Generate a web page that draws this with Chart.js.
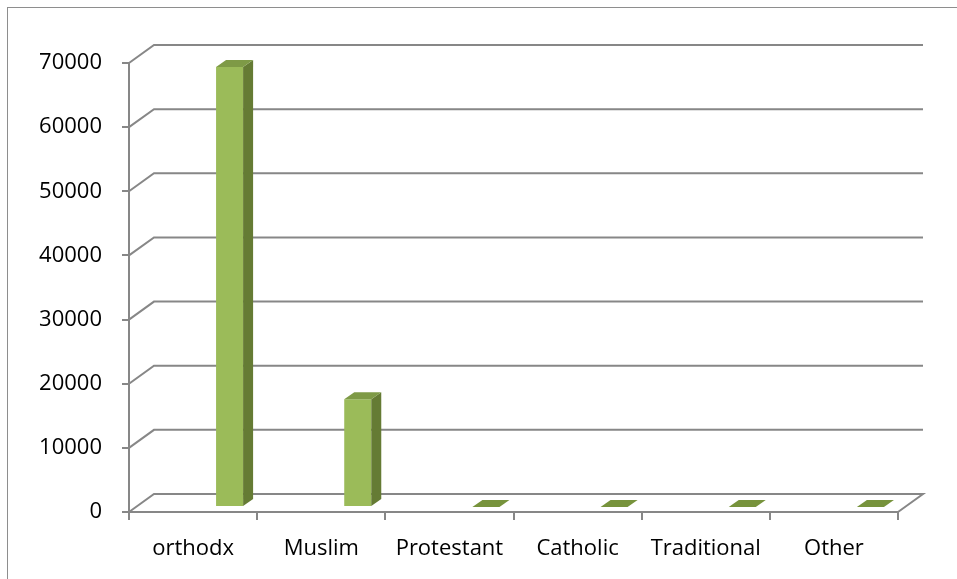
<!DOCTYPE html>
<html>
<head>
<meta charset="utf-8">
<script src="https://cdn.jsdelivr.net/npm/chart.js@4/dist/chart.umd.min.js"></script>
<style>
  html, body { margin: 0; padding: 0; background: #fff; }
  #wrap { width: 957px; height: 579px; position: relative; }
</style>
</head>
<body>
<div id="wrap"><canvas id="religionChart"></canvas></div>
<script>
const categories = ['orthodx', 'Muslim', 'Protestant', 'Catholic', 'Traditional', 'Other'];
const counts = [68600, 16800, 0, 0, 0, 0];
const yTicks = [0, 10000, 20000, 30000, 40000, 50000, 60000, 70000];

const gridColor = '#878787';
// depth of the back wall and of the bars, in pixels
const wall = { dx: 25, dy: -18 };
const bar3d = { shiftX: 36.5, shiftY: -5, dx: 10, dy: -7 };

const chartBorder = {
    id: 'chartBorder',
    beforeDraw(chart) {
        const ctx = chart.ctx;
        ctx.save();
        ctx.strokeStyle = '#8e8e8e';
        ctx.lineWidth = 1;
        ctx.strokeRect(7.5, 7.5, 1200, 1200);
        ctx.restore();
    }
};

const backWall = {
    id: 'backWall',
    beforeDatasetsDraw(chart) {
        const { ctx, chartArea } = chart;
        const y = chart.scales.y;
        ctx.save();
        ctx.strokeStyle = gridColor;
        ctx.lineWidth = 2;
        yTicks.forEach(v => {
            const py = y.getPixelForValue(v);
            ctx.beginPath();
            ctx.moveTo(chartArea.left, py);
            ctx.lineTo(chartArea.left + wall.dx, py + wall.dy);
            ctx.lineTo(chartArea.right + wall.dx, py + wall.dy);
            if (v === 0) {
                ctx.lineTo(chartArea.right, py);
            }
            ctx.stroke();
        });
        ctx.restore();
    }
};

const columns3d = {
    id: 'columns3d',
    afterDatasetsDraw(chart) {
        const ctx = chart.ctx;
        const meta = chart.getDatasetMeta(0);
        ctx.save();
        meta.data.forEach(el => {
            const w = el.width;
            const x0 = el.x + bar3d.shiftX - w / 2;
            const x1 = x0 + w;
            const top = el.y + bar3d.shiftY;
            const bottom = el.base + bar3d.shiftY;
            const h = bottom - top;
            if (h > 0.5) {
                // front
                ctx.fillStyle = '#9bbb59';
                ctx.fillRect(x0, top, w, h);
                // side
                ctx.fillStyle = '#657b34';
                ctx.beginPath();
                ctx.moveTo(x1, top);
                ctx.lineTo(x1 + bar3d.dx, top + bar3d.dy);
                ctx.lineTo(x1 + bar3d.dx, bottom + bar3d.dy);
                ctx.lineTo(x1, bottom);
                ctx.closePath();
                ctx.fill();
            }
            // top
            ctx.fillStyle = h > 0.5 ? '#7e9a46' : '#77933c';
            ctx.beginPath();
            ctx.moveTo(x0, top);
            ctx.lineTo(x0 + bar3d.dx, top + bar3d.dy);
            ctx.lineTo(x1 + bar3d.dx, top + bar3d.dy);
            ctx.lineTo(x1, top);
            ctx.closePath();
            ctx.fill();
        });
        ctx.restore();
    }
};

new Chart(document.getElementById('religionChart'), {
    type: 'bar',
    data: {
        labels: categories,
        datasets: [{
            data: counts,
            backgroundColor: 'rgba(0,0,0,0)',
            borderWidth: 0,
            categoryPercentage: 1,
            barPercentage: 27 / 128,
        }]
    },
    options: {
        responsive: true,
        maintainAspectRatio: false,
        animation: false,
        layout: { padding: { top: 63, right: 59, bottom: 0, left: 0 } },
        plugins: {
            legend: { display: false },
            tooltip: { enabled: false },
        },
        scales: {
            x: {
                offset: true,
                grid: {
                    offset: true,
                    drawOnChartArea: false,
                    drawTicks: true,
                    tickLength: 8,
                    color: gridColor,
                    lineWidth: 2,
                },
                border: { display: true, color: gridColor, width: 2 },
                ticks: {
                    color: '#000',
                    padding: 16,
                    maxRotation: 0,
                    font: { family: 'Open Sans', size: 22 },
                },
                afterFit(scale) { scale.height = 67; },
            },
            y: {
                min: 0,
                max: 70000,
                afterBuildTicks(scale) { scale.ticks = yTicks.map(v => ({ value: v })); },
                grid: {
                    drawOnChartArea: false,
                    drawTicks: true,
                    tickLength: 7,
                    color: gridColor,
                    lineWidth: 2,
                },
                border: { display: true, color: gridColor, width: 2 },
                ticks: {
                    color: '#000',
                    padding: 20,
                    font: { family: 'Open Sans', size: 22 },
                    callback: v => String(v),
                },
                afterFit(scale) { scale.width = 129; },
            }
        }
    },
    plugins: [chartBorder, backWall, columns3d]
});
</script>
</body>
</html>
